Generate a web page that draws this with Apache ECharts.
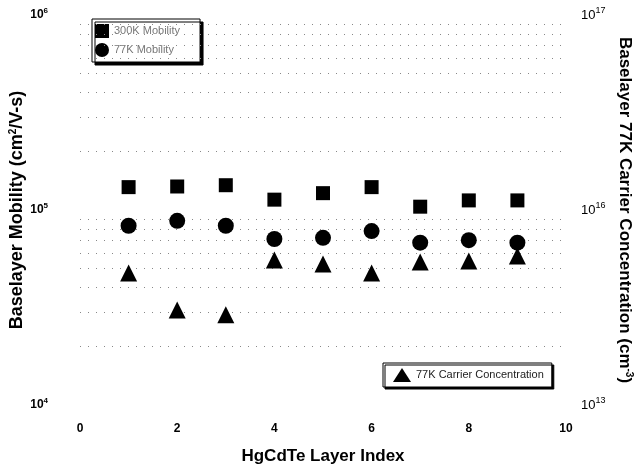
<!DOCTYPE html>
<html><head><meta charset="utf-8">
<script src="https://cdn.jsdelivr.net/npm/echarts@6/dist/echarts.min.js"></script>
<style>html,body{margin:0;padding:0;background:#fff}#c{width:638px;height:471px}</style>
</head><body><div id="c"></div>
<script>
const layerIndex = [1, 2, 3, 4, 5, 6, 7, 8, 9];
const mobilitySquares = [1.31e5, 1.32e5, 1.34e5, 1.13e5, 1.22e5, 1.31e5, 1.04e5, 1.12e5, 1.12e5];
const mobilityCircles = [8.3e4, 8.8e4, 8.3e4, 7.1e4, 7.2e4, 7.8e4, 6.8e4, 7.0e4, 6.8e4];
const carrierConc = [4.75e15, 3.07e15, 2.9e15, 5.54e15, 5.28e15, 4.75e15, 5.41e15, 5.47e15, 5.81e15];
const leftTickExp = ['4', '5', '6'];
const rightTickExp = ['13', '16', '17'];
const gridValues = [2e4, 3e4, 4e4, 5e4, 6e4, 7e4, 8e4, 9e4, 2e5, 3e5, 4e5, 5e5, 6e5, 7e5, 8e5, 9e5];
const seriesNames = ['300K Mobility', '77K Mobility', '77K Carrier Concentration'];

const pair = (ys) => layerIndex.map((x, i) => [x, ys[i]]);
const font = 'Liberation Sans, Arial, sans-serif';
const chart = echarts.init(document.getElementById('c'));
chart.setOption({
  animation: false,
  backgroundColor: '#fff',
  grid: { left: 80, right: 72, top: 15, bottom: 66, outerBoundsMode: 'none', containLabel: false },
  legend: [
    { data: [seriesNames[0], seriesNames[1]], left: 92, top: 19, orient: 'vertical',
      itemWidth: 14, itemHeight: 14, itemGap: 5, padding: [5, 20, 5, 3],
      backgroundColor: '#fff', borderColor: '#000', borderWidth: 1,
      shadowColor: '#000', shadowOffsetX: 3, shadowOffsetY: 3, shadowBlur: 0,
      textStyle: { fontFamily: font, fontSize: 11, color: '#777' } },
    { data: [seriesNames[2]], left: 383, top: 363, orient: 'vertical',
      itemWidth: 18, itemHeight: 14, padding: [5, 8, 5, 10],
      backgroundColor: '#fff', borderColor: '#000', borderWidth: 1,
      shadowColor: '#000', shadowOffsetX: 2, shadowOffsetY: 2, shadowBlur: 0,
      textStyle: { fontFamily: font, fontSize: 11, color: '#222' } }
  ],
  xAxis: {
    type: 'value', min: 0, max: 10, interval: 2,
    name: 'HgCdTe Layer Index', nameLocation: 'middle', nameGap: 43, nameMoveOverlap: false,
    nameTextStyle: { fontFamily: font, fontSize: 17, fontWeight: 'bold', color: '#000' },
    axisLine: { show: false }, axisTick: { show: false }, splitLine: { show: false },
    axisLabel: { margin: 18, fontFamily: font, fontSize: 12, fontWeight: 'bold', color: '#000' }
  },
  yAxis: [
    { type: 'log', logBase: 10, min: 1e4, max: 1e6,
      name: 'Baselayer Mobility (cm{s|2}/V-s)', nameLocation: 'middle', nameGap: 53, nameRotate: 90,
      nameMoveOverlap: false,
      nameTextStyle: { fontFamily: font, fontSize: 18, fontWeight: 'bold', color: '#000',
        rich: { s: { fontSize: 10, fontWeight: 'bold', padding: [0, 0, 9, 0] } } },
      axisLine: { show: false }, axisTick: { show: false }, splitLine: { show: false },
      axisLabel: { margin: 32, color: '#000',
        formatter: v => '10{s|' + leftTickExp[Math.round(Math.log10(v)) - 4] + '}',
        rich: { s: { fontFamily: font, fontSize: 8, fontWeight: 'bold', color: '#000', padding: [0, 0, 8, 0] } },
        fontFamily: font, fontSize: 12, fontWeight: 'bold' } },
    { type: 'log', logBase: 10, min: 1e15, max: 1e17, position: 'right',
      name: 'Baselayer 77K Carrier Concentration (cm{s|-3})', nameLocation: 'middle', nameGap: 49, nameRotate: -90,
      nameMoveOverlap: false,
      nameTextStyle: { fontFamily: font, fontSize: 17, fontWeight: 'bold', color: '#000',
        rich: { s: { fontSize: 10, fontWeight: 'bold', padding: [0, 0, 9, 0] } } },
      axisLine: { show: false }, axisTick: { show: false }, splitLine: { show: false },
      axisLabel: { margin: 15, color: '#000',
        formatter: v => '10{s|' + rightTickExp[Math.round(Math.log10(v)) - 15] + '}',
        rich: { s: { fontFamily: font, fontSize: 9, color: '#000', padding: [0, 0, 8, 0] } },
        fontFamily: font, fontSize: 13 } }
  ],
  series: [
    { name: 'grid', type: 'scatter', yAxisIndex: 0, z: 1, data: [],
      markLine: { silent: true, symbol: 'none', label: { show: false },
        lineStyle: { type: [1, 7], color: '#888', width: 1, opacity: 1 },
        data: gridValues.map(v => ({ yAxis: v })) } },
    { name: seriesNames[0], type: 'scatter', yAxisIndex: 0, z: 5, symbol: 'rect', symbolSize: 14,
      itemStyle: { color: '#000', opacity: 1 }, data: pair(mobilitySquares) },
    { name: seriesNames[1], type: 'scatter', yAxisIndex: 0, z: 5, symbol: 'circle', symbolSize: 16,
      itemStyle: { color: '#000', opacity: 1 }, data: pair(mobilityCircles) },
    { name: seriesNames[2], type: 'scatter', yAxisIndex: 1, z: 5, symbol: 'triangle', symbolSize: 17,
      itemStyle: { color: '#000', opacity: 1 }, data: pair(carrierConc) }
  ]
});
</script></body></html>
